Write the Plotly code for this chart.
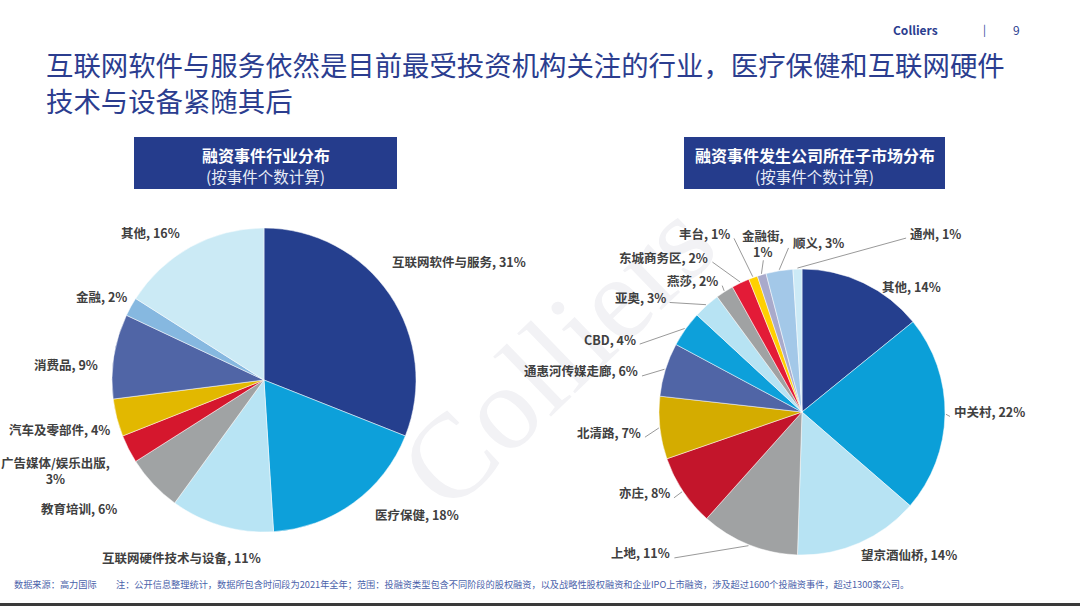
import math
import plotly.graph_objects as go

W, H = 1080, 606

# ---- data ----
ind_labels = ["互联网软件与服务", "医疗保健", "互联网硬件技术与设备", "教育培训",
              "广告媒体/娱乐出版", "汽车及零部件", "消费品", "金融", "其他"]
ind_values = [31, 18, 11, 6, 3, 4, 9, 2, 16]
ind_colors = ["#253F8E", "#0DA0DA", "#B8E4F4", "#A0A3A4", "#D5172D",
              "#E2B800", "#5065A6", "#86B8E0", "#CBEAF5"]

mkt_labels = ["其他", "中关村", "望京酒仙桥", "上地", "亦庄", "北清路", "通惠河传媒走廊",
              "CBD", "亚奥", "燕莎", "东城商务区", "丰台", "金融街", "顺义", "通州"]
mkt_values = [14, 22, 14, 11, 8, 7, 6, 4, 3, 2, 2, 1, 1, 3, 1]
mkt_colors = ["#253F8E", "#0B9FD8", "#B7E3F3", "#A0A2A3", "#C3152B", "#D4AC00",
              "#5065A6", "#0DA0DA", "#B7E3F3", "#A0A2A3", "#E31B37", "#FFD000",
              "#A9AACB", "#A3C8E8", "#CCEAF6"]

# ---- label layout (style) ----
ind_anchor = ["left", "left", "center", "right", "right", "right", "right", "right", "right"]
ind_nudge = [(-10, -26), (13, 2), (-37, 20), (-25, 16), (-6, 16), (7, 9), (-2, 10), (9, -4), (-3, -4)]
ind_wrap = [False, False, False, False, True, False, False, False, False]
ind_line = [False] * 9

mkt_anchor = ["left", "left", "left", "right", "right", "right", "right", "right", "right",
              "right", "right", "right", "center", "left", "left"]
mkt_nudge = [(11, 14), (-5, -3), (-5, 1), (-72, -3), (-1, -5), (-5, 3), (-14, 5), (-38, 17),
             (-31, 1), (2, -1), (-25, -15), (-17, -33), (5, -20), (13, -16), (111, -24)]
mkt_wrap = [False] * 12 + [True, False, False]
mkt_line = [False, True, False, True, True, True, True, True, True, True, True, True, True, True, True]

FONT = "Noto Sans CJK SC"
LABEL_COLOR = "#404040"
LABEL_SIZE = 12.5


def px(x):
    return x / W


def py(y):
    return 1 - y / H


def dom(cx, cy, r):
    return dict(x=[px(cx - r), px(cx + r)], y=[py(cy + r), py(cy - r)])


fig = go.Figure()
shapes = []
annotations = []


def add_pie(labels, values, colors, cx, cy, r, anchors, nudges, wraps, lines):
    fig.add_trace(go.Pie(
        labels=labels, values=values, sort=False, direction="clockwise",
        rotation=0, marker=dict(colors=colors, line=dict(color="white", width=0.5)),
        domain=dom(cx, cy, r), textinfo="none",
        showlegend=False, hoverinfo="label+value",
    ))
    total = float(sum(values))
    cum = 0.0
    for lab, v, anc, (dx, dy), wr, ln in zip(labels, values, anchors, nudges, wraps, lines):
        theta = math.radians((cum + v / 2) / total * 360)
        cum += v
        s, c = math.sin(theta), math.cos(theta)
        lx = cx + (r + 12) * s + dx
        ly = cy - (r + 12) * c + dy
        sep = ",<br>" if wr else ", "
        text = f"<b>{lab}{sep}{v}%</b>"
        annotations.append(dict(xref="paper", yref="paper", x=px(lx), y=py(ly), text=text,
                                showarrow=False, xanchor=anc, yanchor="middle", align="center",
                                font=dict(family=FONT, size=LABEL_SIZE, color=LABEL_COLOR)))
        if ln:
            ex, ey = cx + (r + 1) * s, cy - (r + 1) * c
            if anc == "right":
                ax_, ay_ = lx + 2, ly + 5
            elif anc == "left":
                ax_, ay_ = lx - 2, ly + 5
            else:
                ax_, ay_ = lx, ly + (17 if wr else 9)
            shapes.append(dict(type="path", xref="paper", yref="paper",
                               path=f"M {px(ax_)},{py(ay_)} L {px(ex)},{py(ey)}",
                               line=dict(color="#7F7F7F", width=0.8)))


# watermark (behind the pies)
shapes.append(dict(type="rect", xref="paper", yref="paper", x0=px(448), x1=px(648),
                   y0=py(445), y1=py(245), line=dict(width=0), fillcolor="rgba(0,0,0,0)",
                   layer="below",
                   label=dict(text="Colliers", textangle=-44, textposition="middle center",
                              font=dict(family="Liberation Serif", size=120, color="#F2F2F5"))))

add_pie(ind_labels, ind_values, ind_colors, 264, 380, 152, ind_anchor, ind_nudge, ind_wrap, ind_line)
add_pie(mkt_labels, mkt_values, mkt_colors, 802, 412, 143, mkt_anchor, mkt_nudge, mkt_wrap, mkt_line)

# header boxes
for x0, x1, t1 in [(134, 397, "融资事件行业分布"), (684, 945, "融资事件发生公司所在子市场分布")]:
    shapes.append(dict(type="rect", xref="paper", yref="paper",
                       x0=px(x0), x1=px(x1), y0=py(189), y1=py(137),
                       fillcolor="#253C8C", line=dict(width=0), layer="below"))
    annotations.append(dict(xref="paper", yref="paper", x=px((x0 + x1) / 2), y=py(155),
                            text=f"<b>{t1}</b>", showarrow=False,
                            font=dict(family=FONT, size=16, color="white"),
                            xanchor="center", yanchor="middle"))
    annotations.append(dict(xref="paper", yref="paper", x=px((x0 + x1) / 2), y=py(176),
                            text="(按事件个数计算)", showarrow=False,
                            font=dict(family=FONT, size=15.5, color="#E8ECF6"),
                            xanchor="center", yanchor="middle"))

# title
annotations.append(dict(xref="paper", yref="paper", x=px(44), y=py(81.5),
                        text="互联网软件与服务依然是目前最受投资机构关注的行业，医疗保健和互联网硬件<br>技术与设备紧随其后",
                        showarrow=False, xanchor="left", yanchor="middle", align="left",
                        font=dict(family=FONT, size=27.4, color="#2B3D8F")))

# top-right brand
annotations.append(dict(xref="paper", yref="paper", x=px(940), y=py(19), text="<b>Colliers</b>",
                        showarrow=False, font=dict(family=FONT, size=12, color="#2B3D8F")))
annotations.append(dict(xref="paper", yref="paper", x=px(988), y=py(19), text="|",
                        showarrow=False, font=dict(family=FONT, size=11, color="#2B3D8F")))
annotations.append(dict(xref="paper", yref="paper", x=px(1022), y=py(19), text="9",
                        showarrow=False, font=dict(family=FONT, size=12, color="#2B3D8F")))

# footnote
annotations.append(dict(xref="paper", yref="paper", x=px(12), y=py(584), text="数据来源：高力国际",
                        showarrow=False, xanchor="left", yanchor="middle",
                        font=dict(family=FONT, size=9.2, color="#4A62AA")))
annotations.append(dict(xref="paper", yref="paper", x=px(114), y=py(584),
                        text="注：公开信息整理统计，数据所包含时间段为2021年全年；范围：投融资类型包含不同阶段的股权融资，以及战略性股权融资和企业IPO上市融资，涉及超过1600个投融资事件，超过1300家公司。",
                        showarrow=False, xanchor="left", yanchor="middle",
                        font=dict(family=FONT, size=9.2, color="#4A62AA")))

# bottom border
shapes.append(dict(type="rect", xref="paper", yref="paper", x0=0, x1=1, y0=0, y1=py(603),
                   fillcolor="#3A3A3A", line=dict(width=0)))

fig.update_layout(
    width=W, height=H, margin=dict(l=0, r=0, t=0, b=0),
    paper_bgcolor="white", plot_bgcolor="white",
    shapes=shapes, annotations=annotations,
    font=dict(family=FONT),
)

fig.write_html("out.html", config={"displayModeBar": False},
               post_script="document.body.style.margin='0';document.body.style.overflow='hidden';")
